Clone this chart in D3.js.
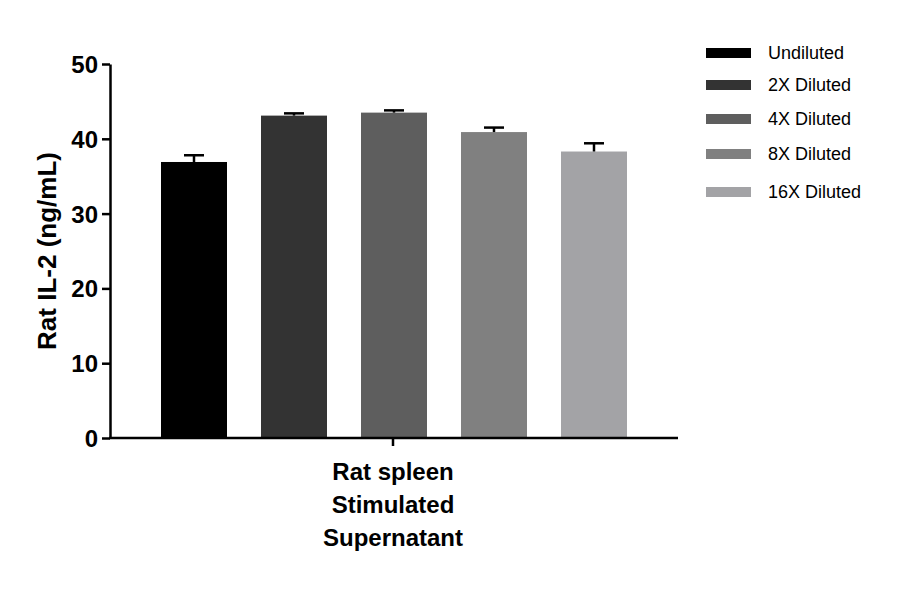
<!DOCTYPE html><html><head><meta charset="utf-8"><script src="https://cdn.jsdelivr.net/npm/d3@7"></script>
<style>body{margin:0;background:#fff}</style></head><body><svg id="c" width="900" height="594"></svg>
<script>
const categories=["Undiluted","2X Diluted","4X Diluted","8X Diluted","16X Diluted"];
const values=[36.9,43.1,43.5,40.9,38.3];
const errors=[0.9,0.3,0.3,0.6,1.1];
const colors=["#000000","#333333","#5e5e5e","#808080","#a3a3a6"];
const yTicks=[0,10,20,30,40,50];
const svg=d3.select("#c");
const y=d3.scaleLinear().domain([0,50]).range([438,64]);
const x=d3.scaleBand().domain(categories).range([144,644]).paddingInner(0.34).paddingOuter(0.17);
const ff="Liberation Sans, Arial, sans-serif";
svg.selectAll("rect.b").data(categories).join("rect").attr("x",d=>x(d)).attr("width",x.bandwidth())
 .attr("y",(d,i)=>y(values[i])).attr("height",(d,i)=>y(0)-y(values[i])).attr("fill",(d,i)=>colors[i]);
categories.forEach((d,i)=>{const cx=x(d)+x.bandwidth()/2;
 svg.append("line").attr("x1",cx).attr("x2",cx).attr("y1",y(values[i])).attr("y2",y(values[i]+errors[i])).attr("stroke","#000").attr("stroke-width",2.5);
 svg.append("line").attr("x1",cx-10).attr("x2",cx+10).attr("y1",y(values[i]+errors[i])).attr("y2",y(values[i]+errors[i])).attr("stroke","#000").attr("stroke-width",2.5);});
const ya=svg.append("g").attr("transform","translate(110,0)").call(d3.axisLeft(y).tickValues(yTicks).tickSize(8).tickSizeOuter(0));
ya.select(".domain").attr("stroke-width",2.5);ya.selectAll(".tick line").attr("stroke-width",2.5);
ya.selectAll("text").attr("font-family",ff).attr("font-size",24).attr("font-weight","bold").attr("fill","#000").attr("dx",-1).attr("dy","0.35em");
svg.append("line").attr("x1",109).attr("x2",678).attr("y1",438).attr("y2",438).attr("stroke","#000").attr("stroke-width",2.5);
svg.append("line").attr("x1",393).attr("x2",393).attr("y1",438).attr("y2",446).attr("stroke","#000").attr("stroke-width",2.5);
svg.append("text").attr("transform","translate(56,251) rotate(-90)").attr("text-anchor","middle").attr("font-family",ff).attr("font-size",26).attr("font-weight","bold").text("Rat IL-2 (ng/mL)");
["Rat spleen","Stimulated","Supernatant"].forEach((t,i)=>svg.append("text").attr("x",393).attr("y",480+i*33).attr("text-anchor","middle").attr("font-family",ff).attr("font-size",24).attr("font-weight","bold").text(t));
const ly=[53,85,119,154,192];
categories.forEach((d,i)=>{svg.append("rect").attr("x",706).attr("y",ly[i]-5).attr("width",45).attr("height",10).attr("fill",colors[i]);
 svg.append("text").attr("x",768).attr("y",ly[i]+6).attr("font-family",ff).attr("font-size",18).text(d);});
</script></body></html>
